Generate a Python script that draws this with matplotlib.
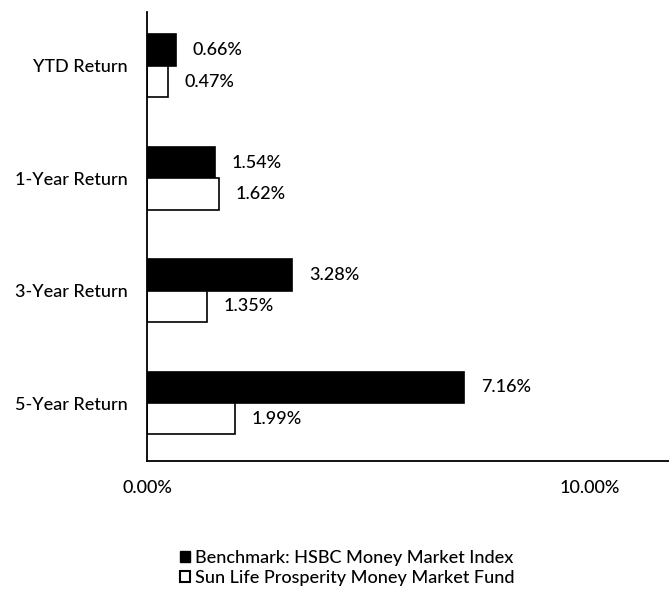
import matplotlib
matplotlib.use("Agg")
import matplotlib.pyplot as plt
from matplotlib.patches import Patch
import numpy as np

plt.rcParams['font.family'] = ['Lato', 'DejaVu Sans']
plt.rcParams['font.weight'] = 'medium'

# returns in percent
categories = ['YTD Return', '1-Year Return', '3-Year Return', '5-Year Return']
benchmark = [0.66, 1.54, 3.28, 7.16]
fund = [0.47, 1.62, 1.35, 1.99]
xtick_vals = [0, 10]
xtick_labels = ['0.00%', '10.00%']
legend_labels = ['Benchmark: HSBC Money Market Index',
                 'Sun Life Prosperity Money Market Fund']

fs = 13

fig = plt.figure(figsize=(6.69, 5.95), dpi=100)
ax = fig.add_axes([147/669, 1 - 461/595, 1 - 147/669, (461 - 12)/595])

y = np.arange(len(categories))
h = 0.28
ax.barh(y - h/2, benchmark, height=h, color='black', edgecolor='black', linewidth=1.2)
ax.barh(y + h/2, fund, height=h, color='white', edgecolor='black', linewidth=1.2)

for yi, b, f in zip(y, benchmark, fund):
    ax.annotate(f'{b:.2f}%', (b, yi - h/2), xytext=(12, 0), textcoords='offset points',
                va='center', ha='left', fontsize=fs)
    ax.annotate(f'{f:.2f}%', (f, yi + h/2), xytext=(12, 0), textcoords='offset points',
                va='center', ha='left', fontsize=fs)

ax.set_xlim(0, 11.78)
ax.set_ylim(len(categories) - 1 + 0.516, -0.48)
ax.set_yticks(y)
ax.set_yticklabels(categories, fontsize=fs)
ax.set_xticks(xtick_vals)
ax.set_xticklabels(xtick_labels, fontsize=fs)
ax.tick_params(axis='y', length=0, pad=14)
ax.tick_params(axis='x', length=0, pad=14)

for s in ['top', 'right']:
    ax.spines[s].set_visible(False)
ax.spines['left'].set_linewidth(1.3)
ax.spines['bottom'].set_linewidth(1.3)

handles = [Patch(facecolor='black', edgecolor='black'),
           Patch(facecolor='white', edgecolor='black', linewidth=1.5)]
fig.legend(handles, legend_labels, loc='upper left', bbox_to_anchor=(180/669, 1 - 550/595),
           frameon=False, fontsize=fs, handlelength=0.55, handleheight=0.55,
           handletextpad=0.3, labelspacing=0.2, borderaxespad=0, borderpad=0)

fig.savefig('out.png', dpi=100)
